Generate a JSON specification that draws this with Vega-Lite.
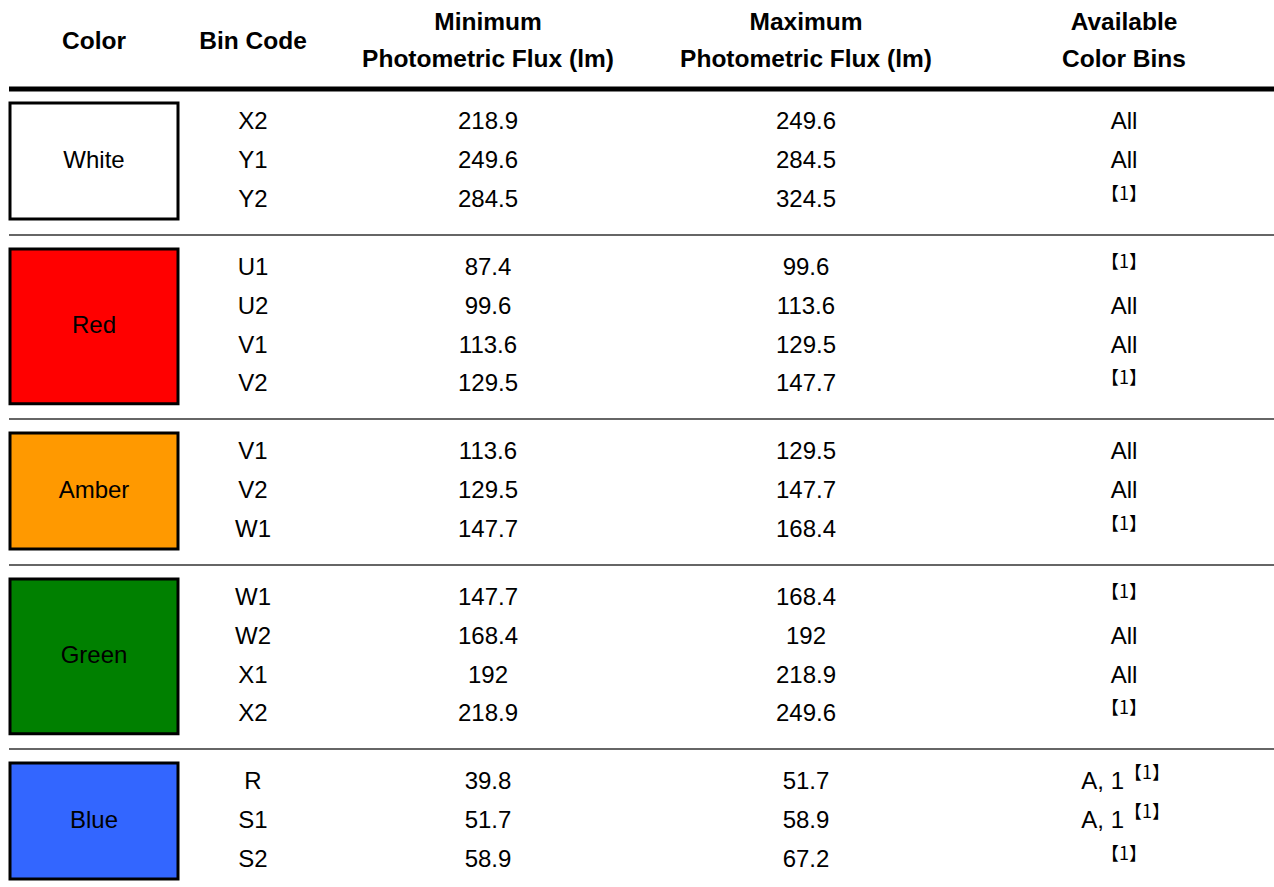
{
  "$schema": "https://vega.github.io/schema/vega-lite/v6.json",
  "padding": {"left": 6, "top": 0, "right": 0, "bottom": 0},
  "background": "white",
  "bounds": "flush",
  "config": {"view": {"stroke": null}, "text": {"font": "Liberation Sans", "fontSize": 24, "color": "black"}},
  "datasets": {
    "header": [
      {"col": 0, "title": "Color"},
      {"col": 1, "title": "Bin Code"},
      {"col": 2, "title": "Minimum\nPhotometric Flux (lm)"},
      {"col": 3, "title": "Maximum\nPhotometric Flux (lm)"},
      {"col": 4, "title": "Available\nColor Bins"}
    ],
    "rows": [
      {"group": "White", "bin": "X2", "min": "218.9", "max": "249.6", "avail": "All", "note": ""},
      {"group": "White", "bin": "Y1", "min": "249.6", "max": "284.5", "avail": "All", "note": ""},
      {"group": "White", "bin": "Y2", "min": "284.5", "max": "324.5", "avail": "", "note": "【1】"},
      {"group": "Red", "bin": "U1", "min": "87.4", "max": "99.6", "avail": "", "note": "【1】"},
      {"group": "Red", "bin": "U2", "min": "99.6", "max": "113.6", "avail": "All", "note": ""},
      {"group": "Red", "bin": "V1", "min": "113.6", "max": "129.5", "avail": "All", "note": ""},
      {"group": "Red", "bin": "V2", "min": "129.5", "max": "147.7", "avail": "", "note": "【1】"},
      {"group": "Amber", "bin": "V1", "min": "113.6", "max": "129.5", "avail": "All", "note": ""},
      {"group": "Amber", "bin": "V2", "min": "129.5", "max": "147.7", "avail": "All", "note": ""},
      {"group": "Amber", "bin": "W1", "min": "147.7", "max": "168.4", "avail": "", "note": "【1】"},
      {"group": "Green", "bin": "W1", "min": "147.7", "max": "168.4", "avail": "", "note": "【1】"},
      {"group": "Green", "bin": "W2", "min": "168.4", "max": "192", "avail": "All", "note": ""},
      {"group": "Green", "bin": "X1", "min": "192", "max": "218.9", "avail": "All", "note": ""},
      {"group": "Green", "bin": "X2", "min": "218.9", "max": "249.6", "avail": "", "note": "【1】"},
      {"group": "Blue", "bin": "R", "min": "39.8", "max": "51.7", "avail": "A, 1", "note": "【1】"},
      {"group": "Blue", "bin": "S1", "min": "51.7", "max": "58.9", "avail": "A, 1", "note": "【1】"},
      {"group": "Blue", "bin": "S2", "min": "58.9", "max": "67.2", "avail": "", "note": "【1】"}
    ]
  },
  "data": {"name": "rows"},
  "spacing": 23,
  "vconcat": [
    {
      "data": {"name": "header"},
      "width": 1268,
      "height": 80,
      "layer": [
        {
          "transform": [{"filter": "indexof(datum.title, '\\n') < 0"}],
          "mark": {"type": "text", "fontWeight": "bold", "fontSize": 24.5, "baseline": "middle", "align": "center", "dy": 2},
          "encoding": {
            "x": {"field": "col", "type": "quantitative", "scale": {"domain": [0, 1, 2, 3, 4], "range": [85, 244, 479, 797, 1115]}, "axis": null},
            "text": {"field": "title", "type": "nominal"}
          }
        },
        {
          "transform": [{"filter": "indexof(datum.title, '\\n') >= 0"}],
          "mark": {"type": "text", "fontWeight": "bold", "fontSize": 24.5, "lineBreak": "\n", "lineHeight": 37, "baseline": "middle", "align": "center", "dy": -17},
          "encoding": {
            "x": {"field": "col", "type": "quantitative", "axis": null},
            "text": {"field": "title", "type": "nominal"}
          }
        }
      ]
    },
    {
      "spacing": 29,
      "bounds": "flush",
      "resolve": {"scale": {"y": "independent"}},
      "vconcat": [
        {
          "transform": [{"filter": "datum.group === 'White'"}],
          "width": 1268, "height": {"step": 38.7},
          "layer": [
            {"transform": [{"aggregate": [{"op": "count", "as": "n"}], "groupby": ["group"]}], "mark": {"type": "rule", "yOffset": -14, "strokeWidth": 5, "color": "black"}, "encoding": {"y": {"value": 0}}},
            {"transform": [{"aggregate": [{"op": "count", "as": "n"}], "groupby": ["group"]}], "mark": {"type": "rect", "width": 168, "stroke": "black", "strokeWidth": 3},
              "encoding": {"x": {"datum": 0, "type": "quantitative", "scale": {"domain": [0, 1, 2, 3, 4], "range": [85, 244, 479, 797, 1115]}, "axis": null},
                "fill": {"field": "group", "type": "nominal", "legend": null, "scale": {"domain": ["White", "Red", "Amber", "Green", "Blue"], "range": ["#ffffff", "#ff0000", "#ff9900", "#008000", "#3366ff"]}}}},
            {"transform": [{"aggregate": [{"op": "count", "as": "n"}], "groupby": ["group"]}], "mark": {"type": "text", "baseline": "middle", "align": "center"},
              "encoding": {"x": {"datum": 0, "type": "quantitative", "axis": null}, "text": {"field": "group", "type": "nominal"}}},
            {"mark": {"type": "text", "baseline": "middle", "align": "center"}, "encoding": {"y": {"field": "bin", "type": "ordinal", "sort": null, "axis": null}, "x": {"datum": 1, "type": "quantitative", "axis": null}, "text": {"field": "bin", "type": "nominal"}}},
            {"mark": {"type": "text", "baseline": "middle", "align": "center"}, "encoding": {"y": {"field": "bin", "type": "ordinal", "sort": null, "axis": null}, "x": {"datum": 2, "type": "quantitative", "axis": null}, "text": {"field": "min", "type": "nominal"}}},
            {"mark": {"type": "text", "baseline": "middle", "align": "center"}, "encoding": {"y": {"field": "bin", "type": "ordinal", "sort": null, "axis": null}, "x": {"datum": 3, "type": "quantitative", "axis": null}, "text": {"field": "max", "type": "nominal"}}},
            {"transform": [{"filter": "datum.avail === 'All'"}], "mark": {"type": "text", "baseline": "middle", "align": "center"}, "encoding": {"y": {"field": "bin", "type": "ordinal", "sort": null, "axis": null}, "x": {"datum": 4, "type": "quantitative", "axis": null}, "text": {"field": "avail", "type": "nominal"}}},
            {"transform": [{"filter": "datum.note !== '' && datum.avail === ''"}], "mark": {"type": "text", "baseline": "middle", "align": "center", "dy": -5, "fontSize": 18, "font": "Noto Sans CJK JP"}, "encoding": {"y": {"field": "bin", "type": "ordinal", "sort": null, "axis": null}, "x": {"datum": 4, "type": "quantitative", "axis": null}, "text": {"field": "note", "type": "nominal"}}}
          ]
        },
        {
          "transform": [{"filter": "datum.group === 'Red'"}],
          "width": 1268, "height": {"step": 38.7},
          "layer": [
            {"transform": [{"aggregate": [{"op": "count", "as": "n"}], "groupby": ["group"]}], "mark": {"type": "rule", "yOffset": -14, "strokeWidth": 1.5, "color": "#333333"}, "encoding": {"y": {"value": 0}}},
            {"transform": [{"aggregate": [{"op": "count", "as": "n"}], "groupby": ["group"]}], "mark": {"type": "rect", "width": 168, "stroke": "black", "strokeWidth": 3},
              "encoding": {"x": {"datum": 0, "type": "quantitative", "scale": {"domain": [0, 1, 2, 3, 4], "range": [85, 244, 479, 797, 1115]}, "axis": null},
                "fill": {"field": "group", "type": "nominal", "legend": null, "scale": {"domain": ["White", "Red", "Amber", "Green", "Blue"], "range": ["#ffffff", "#ff0000", "#ff9900", "#008000", "#3366ff"]}}}},
            {"transform": [{"aggregate": [{"op": "count", "as": "n"}], "groupby": ["group"]}], "mark": {"type": "text", "baseline": "middle", "align": "center"},
              "encoding": {"x": {"datum": 0, "type": "quantitative", "axis": null}, "text": {"field": "group", "type": "nominal"}}},
            {"mark": {"type": "text", "baseline": "middle", "align": "center"}, "encoding": {"y": {"field": "bin", "type": "ordinal", "sort": null, "axis": null}, "x": {"datum": 1, "type": "quantitative", "axis": null}, "text": {"field": "bin", "type": "nominal"}}},
            {"mark": {"type": "text", "baseline": "middle", "align": "center"}, "encoding": {"y": {"field": "bin", "type": "ordinal", "sort": null, "axis": null}, "x": {"datum": 2, "type": "quantitative", "axis": null}, "text": {"field": "min", "type": "nominal"}}},
            {"mark": {"type": "text", "baseline": "middle", "align": "center"}, "encoding": {"y": {"field": "bin", "type": "ordinal", "sort": null, "axis": null}, "x": {"datum": 3, "type": "quantitative", "axis": null}, "text": {"field": "max", "type": "nominal"}}},
            {"transform": [{"filter": "datum.avail === 'All'"}], "mark": {"type": "text", "baseline": "middle", "align": "center"}, "encoding": {"y": {"field": "bin", "type": "ordinal", "sort": null, "axis": null}, "x": {"datum": 4, "type": "quantitative", "axis": null}, "text": {"field": "avail", "type": "nominal"}}},
            {"transform": [{"filter": "datum.note !== '' && datum.avail === ''"}], "mark": {"type": "text", "baseline": "middle", "align": "center", "dy": -5, "fontSize": 18, "font": "Noto Sans CJK JP"}, "encoding": {"y": {"field": "bin", "type": "ordinal", "sort": null, "axis": null}, "x": {"datum": 4, "type": "quantitative", "axis": null}, "text": {"field": "note", "type": "nominal"}}}
          ]
        },
        {
          "transform": [{"filter": "datum.group === 'Amber'"}],
          "width": 1268, "height": {"step": 38.7},
          "layer": [
            {"transform": [{"aggregate": [{"op": "count", "as": "n"}], "groupby": ["group"]}], "mark": {"type": "rule", "yOffset": -14, "strokeWidth": 1.5, "color": "#333333"}, "encoding": {"y": {"value": 0}}},
            {"transform": [{"aggregate": [{"op": "count", "as": "n"}], "groupby": ["group"]}], "mark": {"type": "rect", "width": 168, "stroke": "black", "strokeWidth": 3},
              "encoding": {"x": {"datum": 0, "type": "quantitative", "scale": {"domain": [0, 1, 2, 3, 4], "range": [85, 244, 479, 797, 1115]}, "axis": null},
                "fill": {"field": "group", "type": "nominal", "legend": null, "scale": {"domain": ["White", "Red", "Amber", "Green", "Blue"], "range": ["#ffffff", "#ff0000", "#ff9900", "#008000", "#3366ff"]}}}},
            {"transform": [{"aggregate": [{"op": "count", "as": "n"}], "groupby": ["group"]}], "mark": {"type": "text", "baseline": "middle", "align": "center"},
              "encoding": {"x": {"datum": 0, "type": "quantitative", "axis": null}, "text": {"field": "group", "type": "nominal"}}},
            {"mark": {"type": "text", "baseline": "middle", "align": "center"}, "encoding": {"y": {"field": "bin", "type": "ordinal", "sort": null, "axis": null}, "x": {"datum": 1, "type": "quantitative", "axis": null}, "text": {"field": "bin", "type": "nominal"}}},
            {"mark": {"type": "text", "baseline": "middle", "align": "center"}, "encoding": {"y": {"field": "bin", "type": "ordinal", "sort": null, "axis": null}, "x": {"datum": 2, "type": "quantitative", "axis": null}, "text": {"field": "min", "type": "nominal"}}},
            {"mark": {"type": "text", "baseline": "middle", "align": "center"}, "encoding": {"y": {"field": "bin", "type": "ordinal", "sort": null, "axis": null}, "x": {"datum": 3, "type": "quantitative", "axis": null}, "text": {"field": "max", "type": "nominal"}}},
            {"transform": [{"filter": "datum.avail === 'All'"}], "mark": {"type": "text", "baseline": "middle", "align": "center"}, "encoding": {"y": {"field": "bin", "type": "ordinal", "sort": null, "axis": null}, "x": {"datum": 4, "type": "quantitative", "axis": null}, "text": {"field": "avail", "type": "nominal"}}},
            {"transform": [{"filter": "datum.note !== '' && datum.avail === ''"}], "mark": {"type": "text", "baseline": "middle", "align": "center", "dy": -5, "fontSize": 18, "font": "Noto Sans CJK JP"}, "encoding": {"y": {"field": "bin", "type": "ordinal", "sort": null, "axis": null}, "x": {"datum": 4, "type": "quantitative", "axis": null}, "text": {"field": "note", "type": "nominal"}}}
          ]
        },
        {
          "transform": [{"filter": "datum.group === 'Green'"}],
          "width": 1268, "height": {"step": 38.7},
          "layer": [
            {"transform": [{"aggregate": [{"op": "count", "as": "n"}], "groupby": ["group"]}], "mark": {"type": "rule", "yOffset": -14, "strokeWidth": 1.5, "color": "#333333"}, "encoding": {"y": {"value": 0}}},
            {"transform": [{"aggregate": [{"op": "count", "as": "n"}], "groupby": ["group"]}], "mark": {"type": "rect", "width": 168, "stroke": "black", "strokeWidth": 3},
              "encoding": {"x": {"datum": 0, "type": "quantitative", "scale": {"domain": [0, 1, 2, 3, 4], "range": [85, 244, 479, 797, 1115]}, "axis": null},
                "fill": {"field": "group", "type": "nominal", "legend": null, "scale": {"domain": ["White", "Red", "Amber", "Green", "Blue"], "range": ["#ffffff", "#ff0000", "#ff9900", "#008000", "#3366ff"]}}}},
            {"transform": [{"aggregate": [{"op": "count", "as": "n"}], "groupby": ["group"]}], "mark": {"type": "text", "baseline": "middle", "align": "center"},
              "encoding": {"x": {"datum": 0, "type": "quantitative", "axis": null}, "text": {"field": "group", "type": "nominal"}}},
            {"mark": {"type": "text", "baseline": "middle", "align": "center"}, "encoding": {"y": {"field": "bin", "type": "ordinal", "sort": null, "axis": null}, "x": {"datum": 1, "type": "quantitative", "axis": null}, "text": {"field": "bin", "type": "nominal"}}},
            {"mark": {"type": "text", "baseline": "middle", "align": "center"}, "encoding": {"y": {"field": "bin", "type": "ordinal", "sort": null, "axis": null}, "x": {"datum": 2, "type": "quantitative", "axis": null}, "text": {"field": "min", "type": "nominal"}}},
            {"mark": {"type": "text", "baseline": "middle", "align": "center"}, "encoding": {"y": {"field": "bin", "type": "ordinal", "sort": null, "axis": null}, "x": {"datum": 3, "type": "quantitative", "axis": null}, "text": {"field": "max", "type": "nominal"}}},
            {"transform": [{"filter": "datum.avail === 'All'"}], "mark": {"type": "text", "baseline": "middle", "align": "center"}, "encoding": {"y": {"field": "bin", "type": "ordinal", "sort": null, "axis": null}, "x": {"datum": 4, "type": "quantitative", "axis": null}, "text": {"field": "avail", "type": "nominal"}}},
            {"transform": [{"filter": "datum.note !== '' && datum.avail === ''"}], "mark": {"type": "text", "baseline": "middle", "align": "center", "dy": -5, "fontSize": 18, "font": "Noto Sans CJK JP"}, "encoding": {"y": {"field": "bin", "type": "ordinal", "sort": null, "axis": null}, "x": {"datum": 4, "type": "quantitative", "axis": null}, "text": {"field": "note", "type": "nominal"}}}
          ]
        },
        {
          "transform": [{"filter": "datum.group === 'Blue'"}],
          "width": 1268, "height": {"step": 38.7},
          "layer": [
            {"transform": [{"aggregate": [{"op": "count", "as": "n"}], "groupby": ["group"]}], "mark": {"type": "rule", "yOffset": -14, "strokeWidth": 1.5, "color": "#333333"}, "encoding": {"y": {"value": 0}}},
            {"transform": [{"aggregate": [{"op": "count", "as": "n"}], "groupby": ["group"]}], "mark": {"type": "rect", "width": 168, "stroke": "black", "strokeWidth": 3},
              "encoding": {"x": {"datum": 0, "type": "quantitative", "scale": {"domain": [0, 1, 2, 3, 4], "range": [85, 244, 479, 797, 1115]}, "axis": null},
                "fill": {"field": "group", "type": "nominal", "legend": null, "scale": {"domain": ["White", "Red", "Amber", "Green", "Blue"], "range": ["#ffffff", "#ff0000", "#ff9900", "#008000", "#3366ff"]}}}},
            {"transform": [{"aggregate": [{"op": "count", "as": "n"}], "groupby": ["group"]}], "mark": {"type": "text", "baseline": "middle", "align": "center"},
              "encoding": {"x": {"datum": 0, "type": "quantitative", "axis": null}, "text": {"field": "group", "type": "nominal"}}},
            {"mark": {"type": "text", "baseline": "middle", "align": "center"}, "encoding": {"y": {"field": "bin", "type": "ordinal", "sort": null, "axis": null}, "x": {"datum": 1, "type": "quantitative", "axis": null}, "text": {"field": "bin", "type": "nominal"}}},
            {"mark": {"type": "text", "baseline": "middle", "align": "center"}, "encoding": {"y": {"field": "bin", "type": "ordinal", "sort": null, "axis": null}, "x": {"datum": 2, "type": "quantitative", "axis": null}, "text": {"field": "min", "type": "nominal"}}},
            {"mark": {"type": "text", "baseline": "middle", "align": "center"}, "encoding": {"y": {"field": "bin", "type": "ordinal", "sort": null, "axis": null}, "x": {"datum": 3, "type": "quantitative", "axis": null}, "text": {"field": "max", "type": "nominal"}}},
            {"transform": [{"filter": "datum.avail === 'A, 1'"}], "mark": {"type": "text", "baseline": "middle", "align": "right", "dx": 0}, "encoding": {"y": {"field": "bin", "type": "ordinal", "sort": null, "axis": null}, "x": {"datum": 4, "type": "quantitative", "axis": null}, "text": {"field": "avail", "type": "nominal"}}},
            {"transform": [{"filter": "datum.note !== '' && datum.avail !== ''"}], "mark": {"type": "text", "baseline": "middle", "align": "left", "dx": 0, "dy": -8, "fontSize": 18, "font": "Noto Sans CJK JP"}, "encoding": {"y": {"field": "bin", "type": "ordinal", "sort": null, "axis": null}, "x": {"datum": 4, "type": "quantitative", "axis": null}, "text": {"field": "note", "type": "nominal"}}},
            {"transform": [{"filter": "datum.note !== '' && datum.avail === ''"}], "mark": {"type": "text", "baseline": "middle", "align": "center", "dy": -5, "fontSize": 18, "font": "Noto Sans CJK JP"}, "encoding": {"y": {"field": "bin", "type": "ordinal", "sort": null, "axis": null}, "x": {"datum": 4, "type": "quantitative", "axis": null}, "text": {"field": "note", "type": "nominal"}}}
          ]
        }
      ]
    }
  ]
}
